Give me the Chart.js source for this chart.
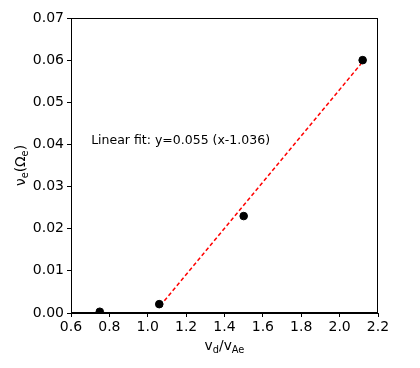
<!DOCTYPE html>
<html>
<head>
<meta charset="utf-8">
<script src="https://cdn.jsdelivr.net/npm/chart.js@4/dist/chart.umd.min.js"></script>
<style>
  body { margin: 0; background: #fff; }
  #wrap { width: 420px; height: 368px; }
</style>
</head>
<body>
<div id="wrap"><canvas id="chart"></canvas></div>
<script>
// data
var dataX = [0.75, 1.06, 1.5, 2.12];
var dataY = [0.0003, 0.0021, 0.023, 0.06];
var fitX = [1.065, 2.12];
var fitY = [0.0017, 0.0596];
var fitText = "Linear fit: y=0.055 (x-1.036)";
var xTicks = [0.6, 0.8, 1.0, 1.2, 1.4, 1.6, 1.8, 2.0, 2.2];
var yTicks = [0, 0.01, 0.02, 0.03, 0.04, 0.05, 0.06, 0.07];

var fontFam = "'DejaVu Sans', sans-serif";

var puntos = [];
for (let i = 0; i < dataX.length; i++) {
    puntos[i] = { x: dataX[i], y: dataY[i] };
}
var linha = [];
for (let i = 0; i < fitX.length; i++) {
    linha[i] = { x: fitX[i], y: fitY[i] };
}

// frame, annotation and axis labels with subscripts
const extras = {
    id: 'extras',
    afterDraw(chart) {
        const ctx = chart.ctx;
        const a = chart.chartArea;
        const sx = chart.scales.x, sy = chart.scales.y;
        ctx.save();
        ctx.strokeStyle = '#000';
        ctx.lineWidth = 1;
        ctx.strokeRect(a.left + 0.5, a.top + 0.5, a.right - a.left - 1, a.bottom - a.top - 1);

        ctx.fillStyle = '#000';
        ctx.font = '12.5px ' + fontFam;
        ctx.textBaseline = 'middle';
        ctx.textAlign = 'left';
        ctx.fillText(fitText, sx.getPixelForValue(0.705), sy.getPixelForValue(0.0408));

        // x label: v_d/v_Ae
        const big = '13.8px ' + fontFam, small = '9.8px ' + fontFam;
        const parts = [['v', big, 0], ['d', small, 3], ['/v', big, 0], ['Ae', small, 3]];
        let w = 0;
        parts.forEach(p => { ctx.font = p[1]; w += ctx.measureText(p[0]).width; });
        let x = (a.left + a.right) / 2 - w / 2;
        const yb = 350;
        ctx.textBaseline = 'alphabetic';
        parts.forEach(p => {
            ctx.font = p[1];
            ctx.fillText(p[0], x, yb + p[2]);
            x += ctx.measureText(p[0]).width;
        });

        // y label: nu_e(Omega_e)
        const partsY = [['\u03BD', big, 0], ['e', small, 3], ['(\u03A9', big, 0], ['e', small, 3], [')', big, 0]];
        w = 0;
        partsY.forEach(p => { ctx.font = p[1]; w += ctx.measureText(p[0]).width; });
        ctx.translate(25, (a.top + a.bottom) / 2);
        ctx.rotate(-Math.PI / 2);
        x = -w / 2;
        partsY.forEach(p => {
            ctx.font = p[1];
            ctx.fillText(p[0], x, p[2]);
            x += ctx.measureText(p[0]).width;
        });
        ctx.restore();
    }
};

const ctx = document.getElementById('chart');
new Chart(ctx, {
    type: 'scatter',
    data: {
        datasets: [{
            label: 'fit',
            data: linha,
            showLine: true,
            borderColor: '#ff0000',
            borderWidth: 1.5,
            borderDash: [4, 2.5],
            pointRadius: 0,
            order: 2
        }, {
            label: 'dados',
            data: puntos,
            backgroundColor: '#000',
            borderColor: '#000',
            pointRadius: 3.8,
            order: 1
        }]
    },
    plugins: [extras],
    options: {
        responsive: true,
        maintainAspectRatio: false,
        animation: false,
        layout: { padding: { left: 0, right: 42, top: 18, bottom: 0 } },
        plugins: {
            legend: { display: false },
            tooltip: { enabled: false }
        },
        scales: {
            x: {
                type: 'linear',
                min: 0.6,
                max: 2.2,
                afterBuildTicks: function (scale) {
                    scale.ticks = xTicks.map(v => ({ value: v }));
                },
                afterFit: function (scale) { scale.height = 55; },
                ticks: {
                    color: '#000',
                    font: { family: fontFam, size: 14 },
                    padding: 2,
                    maxRotation: 0,
                    callback: v => v.toFixed(1)
                },
                grid: { drawOnChartArea: false, tickLength: 4, color: '#000' },
                border: { color: '#000' }
            },
            y: {
                type: 'linear',
                min: 0,
                max: 0.07,
                afterBuildTicks: function (scale) {
                    scale.ticks = yTicks.map(v => ({ value: v }));
                },
                afterFit: function (scale) { scale.width = 71; },
                ticks: {
                    color: '#000',
                    font: { family: fontFam, size: 14 },
                    padding: 3,
                    callback: v => v.toFixed(2)
                },
                grid: { drawOnChartArea: false, tickLength: 4, color: '#000' },
                border: { color: '#000' }
            }
        }
    }
});
</script>
</body>
</html>
